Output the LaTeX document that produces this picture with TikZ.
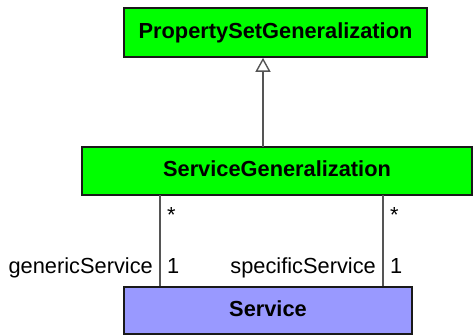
\documentclass[tikz,border=0pt]{standalone}
\usepackage{fontspec}
\setmainfont{Liberation Sans}
\usetikzlibrary{arrows.meta}
\definecolor{boxgreen}{HTML}{00FF00}
\definecolor{boxblue}{HTML}{9999FF}
\definecolor{linegray}{HTML}{555555}
\newcommand{\cname}[1]{\raisebox{4.5pt}{#1}}
\begin{document}
\begin{tikzpicture}[x=1pt,y=-1pt,
  classbox/.style={draw=black!90, line width=1.6pt, inner sep=0pt, font=\fontsize{21.8}{24}\selectfont\bfseries},
  conn/.style={draw=linegray, line width=1.6pt},
  lbl/.style={inner sep=0pt, font=\fontsize{21.8}{24}\selectfont},
  gen/.style={conn, -{Triangle[open, length=14pt, width=15pt, line width=1.4pt, fill=white]}}]
\useasboundingbox (0,0) rectangle (473,335);
\node[classbox, fill=boxgreen, minimum width=303pt, minimum height=49pt] (top) at (275.5,32.5) {\cname{PropertySetGeneralization}};
\node[classbox, fill=boxgreen, minimum width=390pt, minimum height=48pt] (mid) at (277,171) {\cname{ServiceGeneralization}};
\node[classbox, fill=boxblue, minimum width=288pt, minimum height=47pt] (svc) at (268,310.5) {\cname{Service}};
\coordinate (g1) at (263,147);
\coordinate (a1) at (160,195);
\coordinate (a2) at (383,195);
\draw[gen] (g1) -- (g1 |- top.south);
\draw[conn] (a1) -- (a1 |- svc.north);
\draw[conn] (a2) -- (a2 |- svc.north);
\node[lbl, anchor=base west] (s1) at (167,222) {*};
\node[lbl, anchor=base west] (s2) at (390,222) {*};
\node[lbl, anchor=base west] (m1) at (167,273) {1};
\node[lbl, anchor=base west] (m2) at (390,273) {1};
\node[lbl, anchor=base east] (r1) at (153,273) {genericService};
\node[lbl, anchor=base east] (r2) at (376,273) {specificService};
\end{tikzpicture}
\end{document}
